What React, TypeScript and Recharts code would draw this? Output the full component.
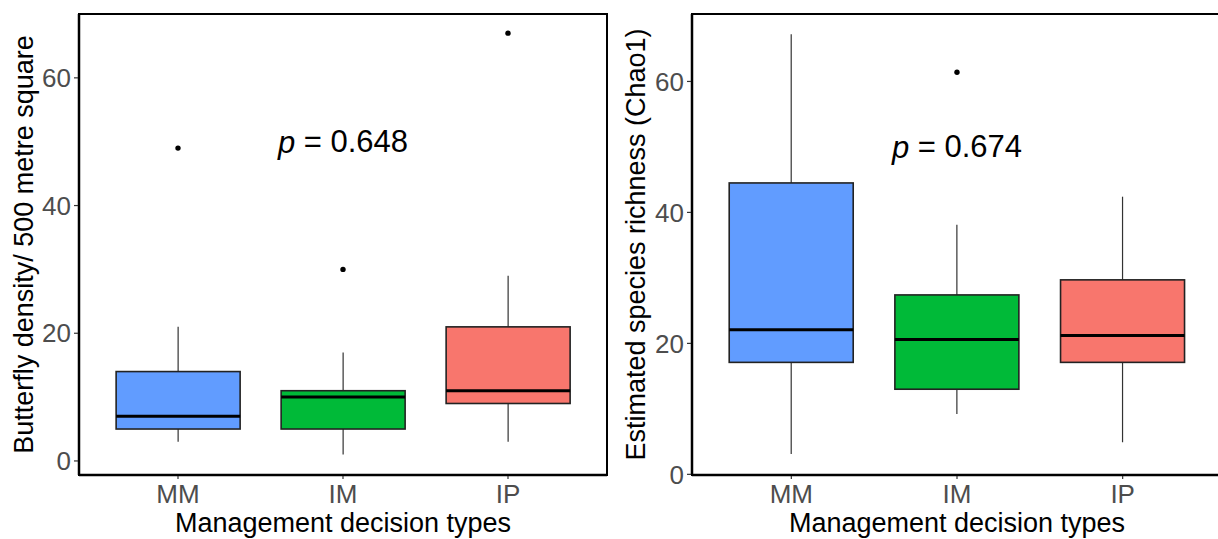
import React from 'react'
import { ComposedChart, Bar, Scatter, XAxis, YAxis, ReferenceDot } from 'recharts'

const groups = ['MM', 'IM', 'IP']
const groupColors = ['#619CFF', '#00BA38', '#F8766D']
const yTicks = [0, 20, 40, 60]

// left panel: butterfly density
const densityLow = [3, 1, 3]
const densityQ1 = [5, 5, 9]
const densityMedian = [7, 10, 11]
const densityQ3 = [14, 11, 21]
const densityHigh = [21, 17, 29]
const densityOutlier = [49, 30, 67]

// right panel: Chao1 richness
const chaoLow = [3.1, 9.2, 4.9]
const chaoQ1 = [17.1, 13.0, 17.1]
const chaoMedian = [22.1, 20.6, 21.2]
const chaoQ3 = [44.5, 27.4, 29.7]
const chaoHigh = [67.2, 38.1, 42.4]
const chaoOutlier = [null, 61.4, null]

const FONT = '"Liberation Sans", Arial, sans-serif'
const TOP = 14
const X_AXIS_H = 64
const H = 539

function buildRows(low, q1, median, q3, high, outlier) {
  return groups.map((g, i) => ({
    group: g,
    range: [low[i], high[i]],
    low: low[i],
    q1: q1[i],
    median: median[i],
    q3: q3[i],
    high: high[i],
    outlier: outlier[i],
    color: groupColors[i],
  }))
}

const densityRows = buildRows(densityLow, densityQ1, densityMedian, densityQ3, densityHigh, densityOutlier)
const chaoRows = buildRows(chaoLow, chaoQ1, chaoMedian, chaoQ3, chaoHigh, chaoOutlier)

function BoxShape(props: any) {
  const { x, y, width, height, payload } = props
  if (!payload || !isFinite(y) || !isFinite(height)) return <g />
  const { low, high, q1, median, q3, color } = payload
  const ppu = height / (high - low)
  const py = (v: number) => y + (high - v) * ppu
  const cx = x + width / 2
  return (
    <g>
      <line x1={cx} x2={cx} y1={py(high)} y2={py(q3)} stroke="#333" strokeWidth={1.2} />
      <line x1={cx} x2={cx} y1={py(q1)} y2={py(low)} stroke="#333" strokeWidth={1.2} />
      <rect x={x} y={py(q3)} width={width} height={py(q1) - py(q3)} fill={color} stroke="#222" strokeWidth={1.6} />
      <line x1={x} x2={x + width} y1={py(median)} y2={py(median)} stroke="#000" strokeWidth={3} />
    </g>
  )
}

function OutlierShape(props: any) {
  const { cx, cy, payload } = props
  if (!payload || payload.outlier == null || !isFinite(cy)) return <g />
  return <circle cx={cx} cy={cy} r={2.7} fill="#000" />
}

interface PanelProps {
  rows: any[]
  domain: [number, number]
  yTitle: string
  pValue: string
  width: number
  yAxisWidth: number
  rightMargin: number
  pad: number
}

function Panel({ rows, domain, yTitle, pValue, width, yAxisWidth, rightMargin, pad }: PanelProps) {
  const plotH = H - TOP - X_AXIS_H
  return (
    <ComposedChart
      width={width}
      height={H}
      data={rows}
      margin={{ top: TOP, right: rightMargin, bottom: 0, left: 0 }}
      barCategoryGap="12.5%"
    >
      <XAxis
        dataKey="group"
        padding={{ left: pad, right: pad }}
        height={X_AXIS_H}
        tickSize={4}
        tickMargin={6}
        tick={{ fill: '#4D4D4D', fontSize: 26, fontFamily: FONT }}
        tickLine={{ stroke: '#333', strokeWidth: 1.2 }}
        axisLine={{ stroke: '#000', strokeWidth: 2.5 }}
        label={{
          content: (p: any) => {
            const vb = p.viewBox || {}
            return (
              <text
                x={vb.x + vb.width / 2}
                y={vb.y + 57}
                textAnchor="middle"
                fontSize={27}
                fontFamily={FONT}
                fill="#000"
              >
                Management decision types
              </text>
            )
          },
        }}
      />
      <YAxis
        type="number"
        domain={domain}
        ticks={yTicks}
        allowDataOverflow
        width={yAxisWidth}
        tickSize={5}
        tickMargin={3}
        tick={{ fill: '#4D4D4D', fontSize: 26, fontFamily: FONT }}
        tickLine={{ stroke: '#333', strokeWidth: 1.2 }}
        axisLine={{ stroke: '#000', strokeWidth: 2.5 }}
        label={{
          content: (p: any) => {
            const vb = p.viewBox || {}
            const cx = vb.x + 24
            const cy = TOP + plotH / 2
            return (
              <text
                x={cx}
                y={cy}
                transform={`rotate(-90 ${cx} ${cy})`}
                textAnchor="middle"
                dominantBaseline="central"
                fontSize={27}
                fontFamily={FONT}
                fill="#000"
              >
                {yTitle}
              </text>
            )
          },
        }}
      />
      <Bar dataKey="range" shape={BoxShape} isAnimationActive={false} />
      <Scatter dataKey="outlier" shape={OutlierShape} isAnimationActive={false} />
      <ReferenceDot
        x="IM"
        y={50}
        r={0}
        shape={(p: any) => (
          <text
            x={p.cx}
            y={p.cy}
            textAnchor="middle"
            dominantBaseline="central"
            fontSize={31}
            fontFamily={FONT}
            fill="#000"
          >
            <tspan fontStyle="italic">p</tspan> = {pValue}
          </text>
        )}
      />
    </ComposedChart>
  )
}

const plotH = H - TOP - X_AXIS_H

export default function App() {
  return (
    <div
      style={{
        position: 'absolute',
        left: 0,
        top: 0,
        width: 1218,
        height: 539,
        background: '#fff',
        overflow: 'hidden',
        fontFamily: FONT,
      }}
    >
      <div style={{ position: 'absolute', left: 0, top: 0, width: 612, height: 539 }}>
        <Panel
          rows={densityRows}
          domain={[-2.2, 70.0]}
          yTitle="Butterfly density/ 500 metre square"
          pValue="0.648"
          width={612}
          yAxisWidth={79}
          rightMargin={5}
          pad={16.5}
        />
      </div>
      <div style={{ position: 'absolute', left: 612, top: 0, width: 606, height: 539, overflow: 'hidden' }}>
        <Panel
          rows={chaoRows}
          domain={[-0.1, 70.3]}
          yTitle="Estimated species richness (Chao1)"
          pValue="0.674"
          width={610}
          yAxisWidth={80}
          rightMargin={0}
          pad={16.5}
        />
      </div>
      {/* panel frames, drawn over both charts */}
      <div
        style={{
          position: 'absolute',
          left: 78,
          top: TOP - 1,
          width: 530,
          height: plotH + 2,
          border: '2px solid #000',
          boxSizing: 'border-box',
          pointerEvents: 'none',
        }}
      />
      <div
        style={{
          position: 'absolute',
          left: 691,
          top: TOP - 1,
          width: 540,
          height: plotH + 2,
          borderTop: '2px solid #000',
          borderLeft: '2px solid #000',
          borderBottom: '2px solid #000',
          boxSizing: 'border-box',
          pointerEvents: 'none',
        }}
      />
    </div>
  )
}
